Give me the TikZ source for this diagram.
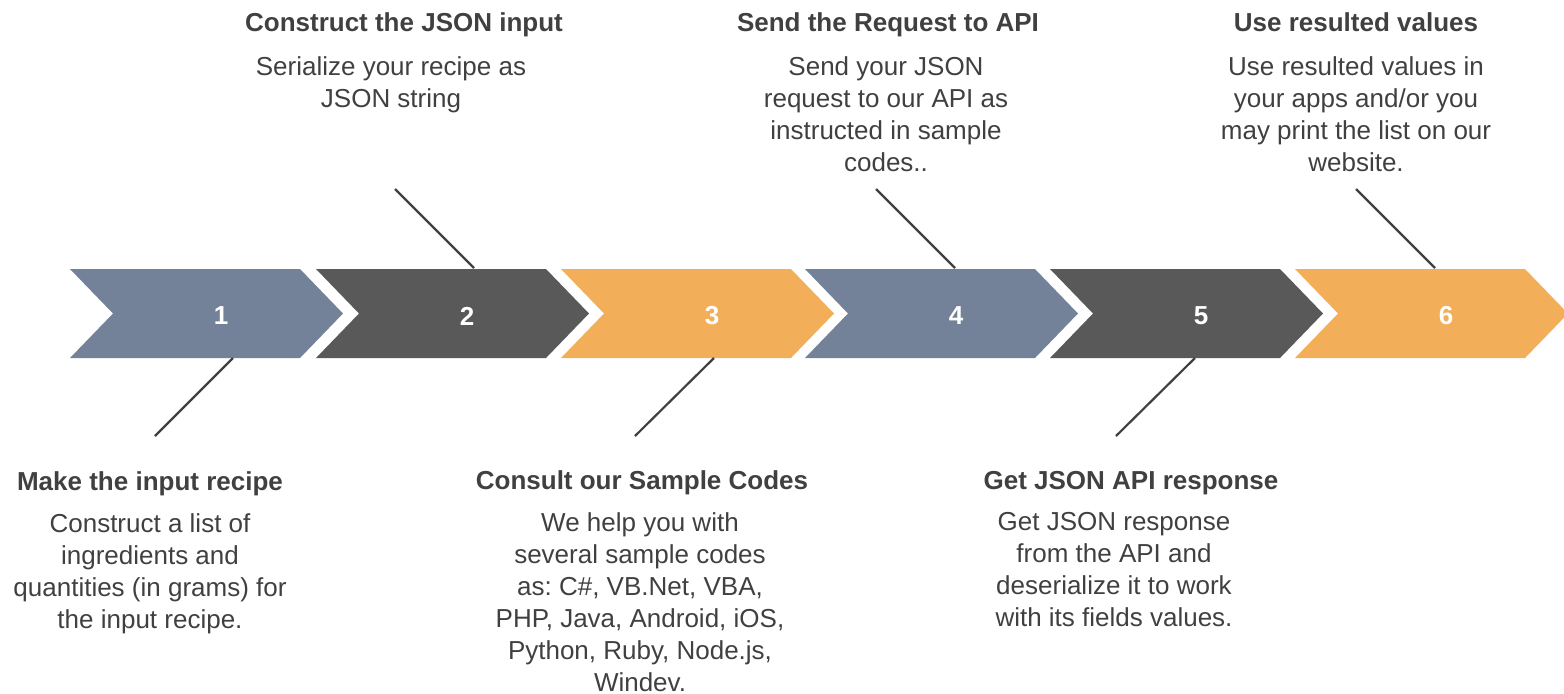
\documentclass[tikz,border=0pt]{standalone}
\usepackage{fontspec}
\setmainfont{Liberation Sans}
\frenchspacing
\definecolor{slate}{HTML}{738299}
\definecolor{dark}{HTML}{595959}
\definecolor{orng}{HTML}{F3AE5A}
\definecolor{txt}{HTML}{404040}
\definecolor{lead}{HTML}{404040}
\tikzset{
  num/.style={text=white, font=\fontsize{13}{16}\selectfont\bfseries, inner sep=0},
  ttl/.style={text=txt, font=\fontsize{13}{16}\selectfont\bfseries, anchor=base, inner sep=0},
  bdy/.style={text=txt, font=\fontsize{13}{16}\selectfont\frenchspacing, align=center, anchor=north, inner sep=0},
  leader/.style={draw=lead, line width=1.1pt}
}
\newcommand{\mychev}[3]{%
  \fill[#2] (#1,269) -- ++(230,0) -- ++(43,44.5) -- ++(-43,44.5) -- ++(-230,0) -- ++(43,-44.5) -- cycle;
  \node[num] (n#3) at ({#1+151},316) {#3};
}
\begin{document}
\begin{tikzpicture}[x=0.5pt,y=-0.5pt]
\useasboundingbox (0,0) rectangle (1564,693);
\mychev{70}{slate}{1}
\mychev{316}{dark}{2}
\mychev{561}{orng}{3}
\mychev{805}{slate}{4}
\mychev{1050}{dark}{5}
\mychev{1295}{orng}{6}
% leader lines
\coordinate (a1) at (233,358); \coordinate (b1) at (155,436);
\coordinate (a2) at (474,268); \coordinate (b2) at (395,189);
\coordinate (a3) at (714,358); \coordinate (b3) at (635,436);
\coordinate (a4) at (955,268); \coordinate (b4) at (876,189);
\coordinate (a5) at (1195,358); \coordinate (b5) at (1116,436);
\coordinate (a6) at (1435,268); \coordinate (b6) at (1356,189);
\foreach \i in {1,...,6} \draw[leader] (a\i) -- (b\i);
% step 1
\node[ttl] (t1) at (150,490) {Make the input recipe};
\node[bdy] (d1) at (150,513) {Construct a list of\\ingredients and\\quantities (in grams) for\\the input recipe.};
% step 2
\node[ttl] (t2) at (404,31) {Construct the JSON input};
\node[bdy] (d2) at (391,56) {Serialize your recipe as\\JSON string};
% step 3
\node[ttl] (t3) at (642,489) {Consult our Sample Codes};
\node[bdy] (d3) at (640,512) {We help you with\\several sample codes\\as: C\#, VB.Net, VBA,\\PHP, Java, Android, iOS,\\Python, Ruby, Node.js,\\Windev.};
% step 4
\node[ttl] (t4) at (888,31) {Send the Request to API};
\node[bdy] (d4) at (886,56) {Send your JSON\\request to our API as\\instructed in sample\\codes..};
% step 5
\node[ttl] (t5) at (1131,489) {Get JSON API response};
\node[bdy] (d5) at (1114,512) {Get JSON response\\from the API and\\deserialize it to work\\with its fields values.};
% step 6
\node[ttl] (t6) at (1356,31) {Use resulted values};
\node[bdy] (d6) at (1356,56) {Use resulted values in\\your apps and/or you\\may print the list on our\\website.};
\end{tikzpicture}
\end{document}
